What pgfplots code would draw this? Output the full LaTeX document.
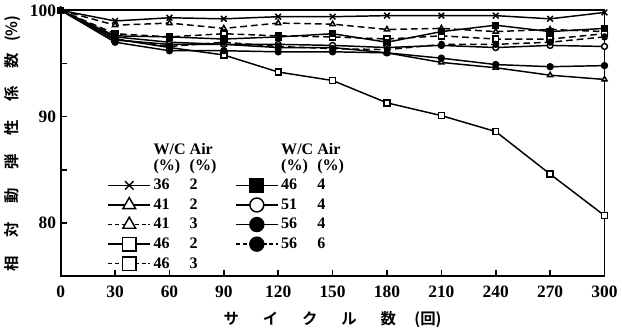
\documentclass[border=0pt]{standalone}
\usepackage{pgfplots}
\pgfplotsset{compat=1.18}
\usepackage{fontspec}
\setmainfont{Liberation Serif}
\newfontfamily\jp{Noto Sans CJK JP Bold}
\newcommand{\tf}{\bfseries\fontsize{13}{15}\selectfont}
\newcommand{\lf}{\bfseries\fontsize{12}{13}\selectfont}
\tikzset{ser/.style={black, line width=1.1pt, mark size=2.2pt, mark options={solid, fill=white}},
  dsh/.style={dash pattern=on 5pt off 3pt}}
\begin{document}
\begin{tikzpicture}
\begin{axis}[
  scale only axis, width=406.5pt, height=198.75pt,
  xmin=0, xmax=300, ymin=75, ymax=100,
  xtick={0,30,...,300}, ytick={80,90,100}, minor ytick={85,95},
  tick align=inside, xtick pos=bottom, ytick pos=left,
  axis line style={line width=1.4pt},
  major tick length=5pt, minor tick length=5pt,
  every tick/.style={black, line width=1.2pt},
  /pgf/number format/assume math mode=true,
  ticklabel style={font=\tf},
  xticklabel style={yshift=-4pt},
  xlabel={\jp\fontsize{11.5}{13}\selectfont サ\hspace{1.55em}イ\hspace{1.55em}ク\hspace{1.55em}ル\hspace{1.55em}数\hspace{1.2em}(回)},
  ylabel={\jp\fontsize{11.5}{13}\selectfont 相\hspace{1.2em}対\hspace{1.2em}動\hspace{1.2em}弾\hspace{1.2em}性\hspace{1.2em}係\hspace{1.2em}数\hspace{0.7em}(\%)},
  xlabel style={yshift=-3pt},
  ylabel style={yshift=0pt},
  legend columns=2,
  legend cell align=left,
  legend style={at={(axis cs:23.5,88.0)}, anchor=north west, draw=none, fill=none, font=\lf,
    row sep=1.2pt,
    /tikz/every even column/.append style={column sep=12pt}},
  legend image code/.code={\draw[mark repeat=2,mark phase=2,#1] plot coordinates {(0cm,0cm)(0.55cm,0cm)(1.1cm,0cm)};},
]
% 36/2 cross solid
\addplot[ser, forget plot, mark=x, mark size=3pt] coordinates {(0,100)(30,99.0)(60,99.3)(90,99.2)(120,99.4)(150,99.4)(180,99.5)(210,99.5)(240,99.5)(270,99.2)(300,99.8)};
% 41/2 triangle solid
\addplot[ser, forget plot, mark=triangle*] coordinates {(0,100)(30,97.5)(60,97.0)(90,96.8)(120,96.5)(150,96.5)(180,96.0)(210,95.1)(240,94.6)(270,93.9)(300,93.5)};
% 41/3 triangle dashed
\addplot[ser, forget plot, mark=triangle*, dsh] coordinates {(0,100)(30,98.6)(60,98.8)(90,98.3)(120,98.8)(150,98.7)(180,98.2)(210,98.3)(240,98.0)(270,98.2)(300,98.0)};
% 46/2 square solid
\addplot[ser, forget plot, mark=square*] coordinates {(0,100)(30,97.3)(60,96.5)(90,95.8)(120,94.2)(150,93.4)(180,91.3)(210,90.1)(240,88.6)(270,84.6)(300,80.7)};
% 46/3 square dashed
\addplot[ser, forget plot, mark=square*, dsh] coordinates {(0,100)(30,97.8)(60,97.5)(90,97.8)(120,97.6)(150,97.5)(180,97.3)(210,97.6)(240,97.3)(270,97.3)(300,97.8)};
% 46/4 filled square solid
\addplot[ser, forget plot, mark=square*, mark options={fill=black}] coordinates {(0,100)(30,97.6)(60,97.5)(90,97.3)(120,97.5)(150,97.8)(180,97.0)(210,98.0)(240,98.6)(270,98.0)(300,98.3)};
% 51/4 open circle solid
\addplot[ser, forget plot, mark=*] coordinates {(0,100)(30,97.2)(60,96.8)(90,96.8)(120,96.8)(150,96.7)(180,96.5)(210,96.7)(240,96.5)(270,96.7)(300,96.6)};
% 56/4 filled circle solid
\addplot[ser, forget plot, mark=*, mark options={fill=black}] coordinates {(0,100)(30,97.0)(60,96.2)(90,96.2)(120,96.1)(150,96.1)(180,96.0)(210,95.5)(240,94.9)(270,94.7)(300,94.8)};
% 56/6 filled circle dashed
\addplot[ser, forget plot, mark=*, mark options={fill=black}, dsh] coordinates {(0,100)(30,97.3)(60,96.6)(90,97.0)(120,96.6)(150,96.4)(180,96.3)(210,96.8)(240,96.8)(270,97.0)(300,97.5)};
% legend
\addlegendimage{empty legend}
\addlegendentry{\shortstack[l]{\makebox[2.25em][l]{W/C}Air\\\makebox[2.25em][l]{(\%)}(\%)}}
\addlegendimage{empty legend}
\addlegendentry{\shortstack[l]{\makebox[2.25em][l]{W/C}Air\\\makebox[2.25em][l]{(\%)}(\%)}}
\addlegendimage{black, line width=1.1pt, mark=x, mark size=4.5pt}
\addlegendentry{\makebox[2.25em][l]{36}2}
\addlegendimage{black, line width=1.1pt, mark=square*, mark size=5pt, mark options={fill=black}}
\addlegendentry{\makebox[2.25em][l]{46}4}
\addlegendimage{black, line width=1.1pt, mark=triangle*, mark size=5.5pt, mark options={fill=white}}
\addlegendentry{\makebox[2.25em][l]{41}2}
\addlegendimage{black, line width=1.1pt, mark=*, mark size=5.2pt, mark options={fill=white}}
\addlegendentry{\makebox[2.25em][l]{51}4}
\addlegendimage{black, line width=1.1pt, mark=triangle*, mark size=5.5pt, dash pattern=on 3pt off 2pt, mark options={fill=white, solid}}
\addlegendentry{\makebox[2.25em][l]{41}3}
\addlegendimage{black, line width=1.1pt, mark=*, mark size=5.2pt, mark options={fill=black}}
\addlegendentry{\makebox[2.25em][l]{56}4}
\addlegendimage{black, line width=1.1pt, mark=square*, mark size=5pt, mark options={fill=white}}
\addlegendentry{\makebox[2.25em][l]{46}2}
\addlegendimage{black, line width=1.1pt, mark=*, mark size=5.2pt, dash pattern=on 3pt off 2pt, mark options={fill=black, solid}}
\addlegendentry{\makebox[2.25em][l]{56}6}
\addlegendimage{black, line width=1.1pt, mark=square*, mark size=5pt, dash pattern=on 3pt off 2pt, mark options={fill=white, solid}}
\addlegendentry{\makebox[2.25em][l]{46}3}
\end{axis}
\end{tikzpicture}
\end{document}
